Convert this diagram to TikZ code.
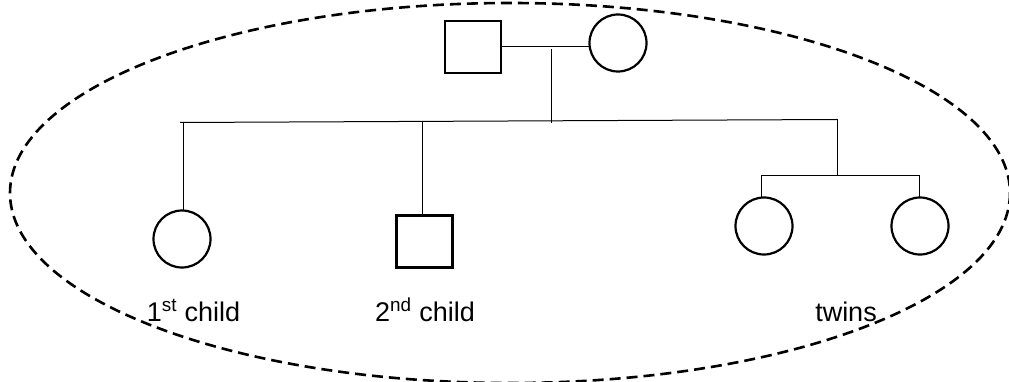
\documentclass[tikz,border=0pt]{standalone}
\usepackage{fontspec}
\setmainfont{Liberation Sans}
\begin{document}
\begin{tikzpicture}[x=1pt,y=-1pt,
  person/.style={draw,line width=2.2pt,inner sep=0pt,outer sep=0pt},
  male/.style={person,rectangle,minimum width=56pt,minimum height=52pt},
  female/.style={person,circle,minimum size=57pt},
  link/.style={line width=1pt},
  lbl/.style={anchor=base,font=\fontsize{27}{32}\selectfont,inner sep=0pt}]
\clip (0,0) rectangle (1009,382);
\fill[white] (0,0) rectangle (1009,382);
% family boundary
\draw[dash pattern=on 11pt off 6pt,line width=2.6pt] (510,193) ellipse [x radius=500, y radius=190];
% parents
\node[male] (fa) at (473,47) {};
\node[female] (mo) at (618,43) {};
% children
\node[female] (c1) at (182,239) {};
\node[male] (c2) at (424.5,241.5) {};
\node[female] (t1) at (764,226) {};
\node[female] (t2) at (920,226) {};
% connector points
\coordinate (mid) at (551.5,49);
\coordinate (sL) at (180,122.5);
\coordinate (sR) at (837,119.5);
\coordinate (sM) at (551.5,123);
\coordinate (d1) at (183.5,123);
\coordinate (d2) at (422.5,122);
\coordinate (tL) at (761.5,175.5);
\coordinate (tR) at (919.5,175.5);
\coordinate (tM) at (837.5,175.5);
% connectors
\draw[link] (fa.east |- 0,46.5) -- (mo.west |- 0,46.5);
\draw[link] (mid) -- (sM);
\draw[link] (sL) -- (sR);
\draw[link] (d1) -- (d1 |- c1.north);
\draw[link] (d2) -- (d2 |- c2.north);
\draw[link] (837.5,119.5) -- (tM);
\draw[link] (tL) -- (tR);
\draw[link] (tL) -- (tL |- t1.north);
\draw[link] (tR) -- (tR |- t2.north);
% labels
\node[lbl] (l1) at (193.5,321) {1\textsuperscript{st} child};
\node[lbl] (l2) at (425,321) {2\textsuperscript{nd} child};
\node[lbl] (l3) at (846,321) {twins};
\end{tikzpicture}
\end{document}
